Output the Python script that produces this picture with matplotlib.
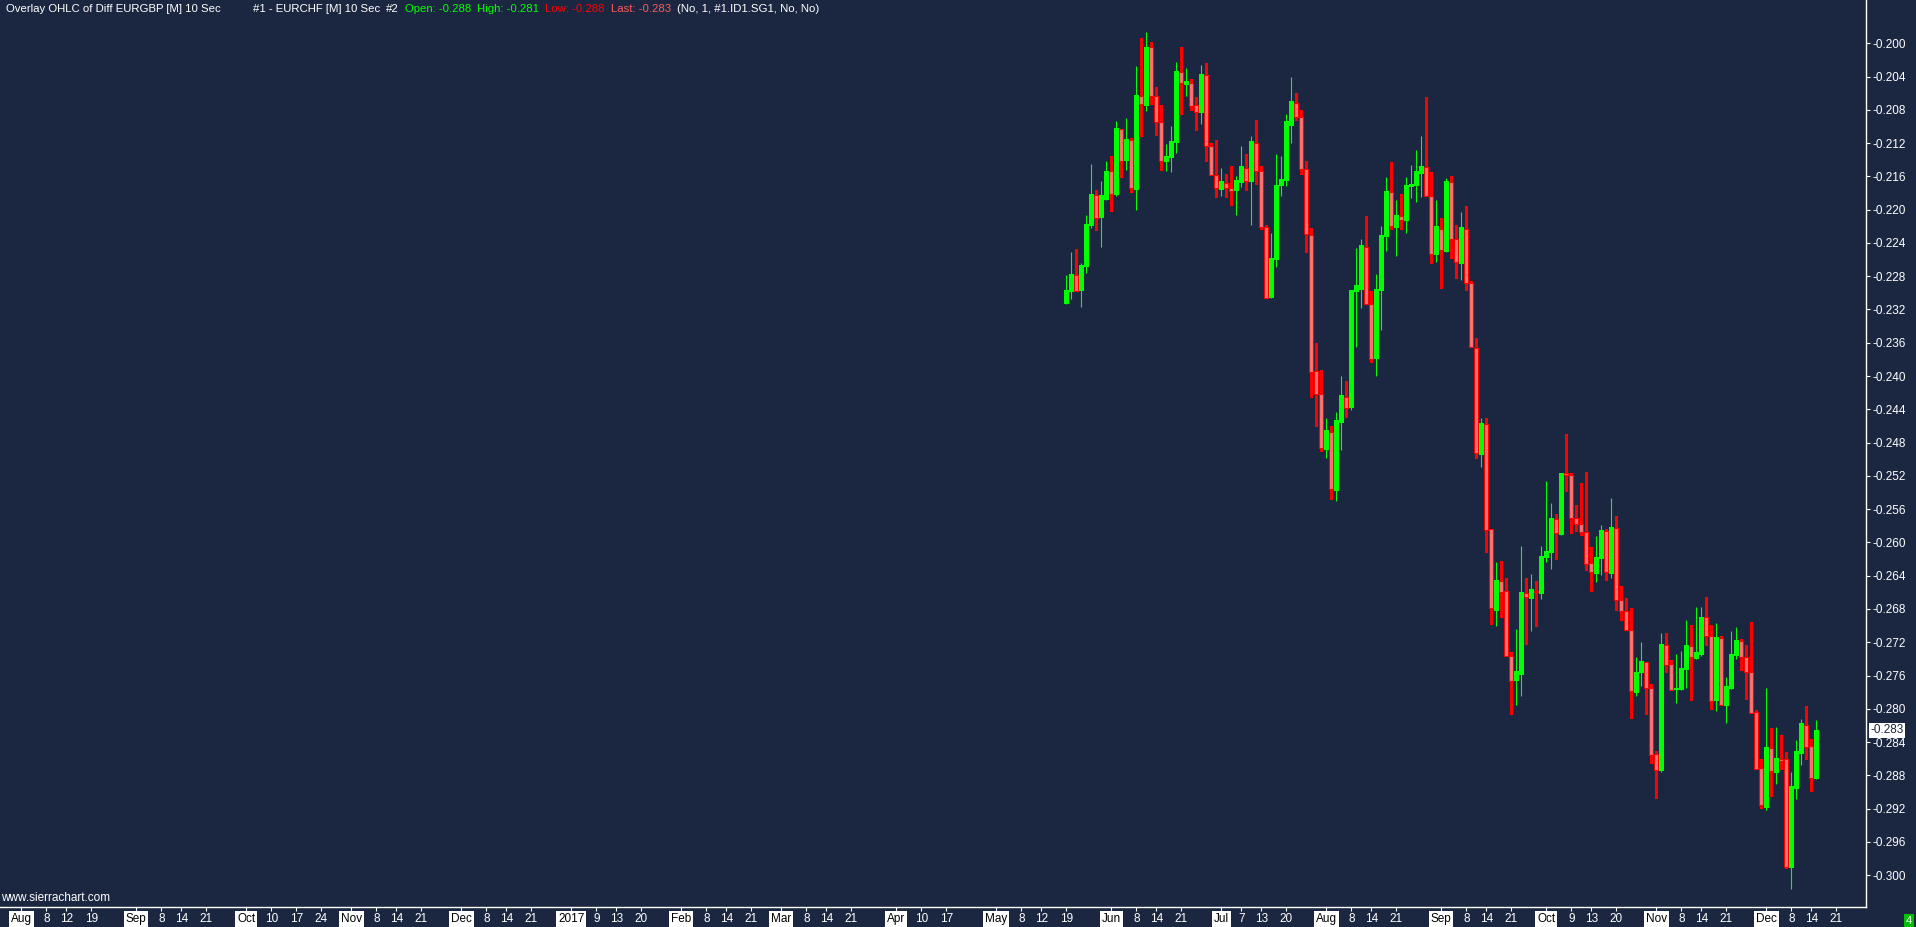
import numpy as np
import pandas as pd
import matplotlib
matplotlib.use("Agg")
import matplotlib.pyplot as plt
from matplotlib import font_manager

# daily OHLC of the EURGBP - EURCHF difference, one bar per weekday
dates = pd.bdate_range("2017-05-19", periods=151)

opens = [
    -0.2314, -0.2299, -0.2278, -0.2298, -0.2269, -0.2220, -0.2182, -0.2210, -0.2188, -0.2154,
    -0.2183, -0.2103, -0.2142, -0.2116, -0.2176, -0.2063, -0.2075, -0.2005, -0.2063, -0.2095,
    -0.2143, -0.2138, -0.2120, -0.2035, -0.2050, -0.2048, -0.2074, -0.2084, -0.2038, -0.2123,
    -0.2158, -0.2176, -0.2168, -0.2174, -0.2178, -0.2168, -0.2150, -0.2167, -0.2120, -0.2153,
    -0.2221, -0.2306, -0.2261, -0.2172, -0.2166, -0.2099, -0.2072, -0.2089, -0.2151, -0.2231,
    -0.2394, -0.2422, -0.2489, -0.2467, -0.2538, -0.2456, -0.2425, -0.2439, -0.2299, -0.2296,
    -0.2245, -0.2314, -0.2380, -0.2298, -0.2233, -0.2179, -0.2222, -0.2208, -0.2214, -0.2173,
    -0.2172, -0.2157, -0.2149, -0.2184, -0.2254, -0.2223, -0.2251, -0.2167, -0.2235, -0.2265,
    -0.2223, -0.2288, -0.2366, -0.2495, -0.2458, -0.2584, -0.2682, -0.2646, -0.2659, -0.2736,
    -0.2766, -0.2759, -0.2661, -0.2668, -0.2658, -0.2662, -0.2619, -0.2613, -0.2572, -0.2591,
    -0.2517, -0.2519, -0.2571, -0.2578, -0.2588, -0.2625, -0.2638, -0.2620, -0.2586, -0.2638,
    -0.2583, -0.2669, -0.2682, -0.2705, -0.2781, -0.2757, -0.2744, -0.2775, -0.2854, -0.2875,
    -0.2723, -0.2746, -0.2778, -0.2778, -0.2753, -0.2725, -0.2740, -0.2735, -0.2690, -0.2713,
    -0.2791, -0.2715, -0.2797, -0.2776, -0.2737, -0.2719, -0.2738, -0.2756, -0.2804, -0.2871,
    -0.2919, -0.2847, -0.2877, -0.2860, -0.2860, -0.2991, -0.2896, -0.2854, -0.2819, -0.2845,
    -0.2884]
highs = [
    -0.2278, -0.2251, -0.2247, -0.2264, -0.2206, -0.2145, -0.2176, -0.2165, -0.2141, -0.2135,
    -0.2093, -0.2103, -0.2090, -0.2114, -0.2027, -0.1994, -0.1986, -0.1999, -0.2052, -0.2074,
    -0.2121, -0.2099, -0.2022, -0.2004, -0.2030, -0.2043, -0.2064, -0.2026, -0.2024, -0.2120,
    -0.2116, -0.2150, -0.2157, -0.2148, -0.2159, -0.2123, -0.2133, -0.2112, -0.2092, -0.2147,
    -0.2218, -0.2228, -0.2133, -0.2135, -0.2085, -0.2040, -0.2060, -0.2080, -0.2141, -0.2222,
    -0.2360, -0.2393, -0.2451, -0.2460, -0.2443, -0.2400, -0.2406, -0.2296, -0.2246, -0.2235,
    -0.2208, -0.2298, -0.2277, -0.2220, -0.2161, -0.2143, -0.2188, -0.2181, -0.2161, -0.2146,
    -0.2128, -0.2111, -0.2065, -0.2155, -0.2188, -0.2210, -0.2162, -0.2159, -0.2219, -0.2203,
    -0.2196, -0.2286, -0.2354, -0.2451, -0.2451, -0.2584, -0.2624, -0.2622, -0.2643, -0.2732,
    -0.2704, -0.2604, -0.2643, -0.2638, -0.2646, -0.2604, -0.2526, -0.2553, -0.2566, -0.2517,
    -0.2470, -0.2517, -0.2555, -0.2529, -0.2515, -0.2606, -0.2592, -0.2579, -0.2584, -0.2547,
    -0.2568, -0.2652, -0.2667, -0.2679, -0.2738, -0.2720, -0.2744, -0.2770, -0.2851, -0.2709,
    -0.2709, -0.2741, -0.2734, -0.2731, -0.2693, -0.2699, -0.2678, -0.2678, -0.2666, -0.2699,
    -0.2697, -0.2713, -0.2762, -0.2707, -0.2702, -0.2716, -0.2723, -0.2696, -0.2801, -0.2860,
    -0.2775, -0.2823, -0.2822, -0.2832, -0.2852, -0.2876, -0.2838, -0.2812, -0.2797, -0.2836,
    -0.2813]
lows = [
    -0.2314, -0.2308, -0.2298, -0.2317, -0.2276, -0.2222, -0.2226, -0.2245, -0.2188, -0.2203,
    -0.2184, -0.2162, -0.2152, -0.2180, -0.2201, -0.2113, -0.2081, -0.2074, -0.2112, -0.2154,
    -0.2153, -0.2155, -0.2132, -0.2086, -0.2063, -0.2082, -0.2106, -0.2097, -0.2143, -0.2160,
    -0.2186, -0.2184, -0.2186, -0.2196, -0.2206, -0.2173, -0.2178, -0.2218, -0.2170, -0.2225,
    -0.2307, -0.2306, -0.2269, -0.2184, -0.2171, -0.2120, -0.2094, -0.2158, -0.2252, -0.2426,
    -0.2461, -0.2491, -0.2499, -0.2549, -0.2550, -0.2489, -0.2451, -0.2441, -0.2365, -0.2318,
    -0.2314, -0.2384, -0.2400, -0.2345, -0.2250, -0.2225, -0.2256, -0.2225, -0.2228, -0.2186,
    -0.2191, -0.2185, -0.2184, -0.2265, -0.2263, -0.2295, -0.2251, -0.2259, -0.2283, -0.2284,
    -0.2298, -0.2365, -0.2500, -0.2509, -0.2613, -0.2699, -0.2700, -0.2691, -0.2736, -0.2807,
    -0.2796, -0.2785, -0.2723, -0.2706, -0.2702, -0.2668, -0.2624, -0.2632, -0.2621, -0.2591,
    -0.2539, -0.2590, -0.2588, -0.2592, -0.2634, -0.2660, -0.2648, -0.2639, -0.2646, -0.2643,
    -0.2682, -0.2694, -0.2706, -0.2812, -0.2785, -0.2773, -0.2807, -0.2866, -0.2908, -0.2876,
    -0.2757, -0.2779, -0.2793, -0.2778, -0.2775, -0.2791, -0.2740, -0.2737, -0.2724, -0.2801,
    -0.2803, -0.2797, -0.2817, -0.2776, -0.2740, -0.2755, -0.2789, -0.2806, -0.2872, -0.2920,
    -0.2922, -0.2906, -0.2891, -0.2873, -0.2992, -0.3017, -0.2908, -0.2867, -0.2861, -0.2900,
    -0.2884]
closes = [
    -0.2296, -0.2277, -0.2298, -0.2266, -0.2217, -0.2181, -0.2210, -0.2183, -0.2153, -0.2181,
    -0.2102, -0.2141, -0.2115, -0.2174, -0.2062, -0.2073, -0.2004, -0.2063, -0.2095, -0.2142,
    -0.2135, -0.2117, -0.2033, -0.2048, -0.2045, -0.2075, -0.2083, -0.2037, -0.2124, -0.2158,
    -0.2174, -0.2166, -0.2174, -0.2177, -0.2164, -0.2148, -0.2166, -0.2118, -0.2153, -0.2221,
    -0.2306, -0.2258, -0.2170, -0.2163, -0.2094, -0.2070, -0.2089, -0.2151, -0.2229, -0.2395,
    -0.2422, -0.2487, -0.2465, -0.2536, -0.2453, -0.2423, -0.2439, -0.2296, -0.2291, -0.2243,
    -0.2314, -0.2379, -0.2295, -0.2230, -0.2177, -0.2220, -0.2206, -0.2213, -0.2170, -0.2169,
    -0.2153, -0.2147, -0.2184, -0.2253, -0.2220, -0.2249, -0.2166, -0.2235, -0.2263, -0.2221,
    -0.2288, -0.2365, -0.2493, -0.2456, -0.2585, -0.2679, -0.2645, -0.2660, -0.2736, -0.2766,
    -0.2755, -0.2660, -0.2666, -0.2656, -0.2660, -0.2616, -0.2610, -0.2571, -0.2589, -0.2517,
    -0.2519, -0.2571, -0.2578, -0.2588, -0.2626, -0.2636, -0.2617, -0.2585, -0.2636, -0.2581,
    -0.2669, -0.2682, -0.2705, -0.2779, -0.2756, -0.2743, -0.2775, -0.2855, -0.2873, -0.2722,
    -0.2747, -0.2778, -0.2775, -0.2751, -0.2723, -0.2738, -0.2732, -0.2690, -0.2713, -0.2791,
    -0.2714, -0.2796, -0.2773, -0.2734, -0.2717, -0.2738, -0.2756, -0.2805, -0.2872, -0.2916,
    -0.2846, -0.2875, -0.2859, -0.2863, -0.2990, -0.2893, -0.2851, -0.2817, -0.2846, -0.2883,
    -0.2826]

# time axis labels
month_labels = ["Aug", "Sep", "Oct", "Nov", "Dec", "2017", "Feb", "Mar", "Apr",
                "May", "Jun", "Jul", "Aug", "Sep", "Oct", "Nov", "Dec"]
day_ticks = ["2016-08-08", "2016-08-12", "2016-08-19", "2016-09-08", "2016-09-14", "2016-09-21",
             "2016-10-10", "2016-10-17", "2016-10-24", "2016-11-08", "2016-11-14", "2016-11-21",
             "2016-12-08", "2016-12-14", "2016-12-21", "2017-01-09", "2017-01-13", "2017-01-20",
             "2017-02-08", "2017-02-14", "2017-02-21", "2017-03-08", "2017-03-14", "2017-03-21",
             "2017-04-10", "2017-04-17", "2017-05-08", "2017-05-12", "2017-05-19", "2017-06-08",
             "2017-06-14", "2017-06-21", "2017-07-07", "2017-07-13", "2017-07-20", "2017-08-08",
             "2017-08-14", "2017-08-21", "2017-09-08", "2017-09-14", "2017-09-21", "2017-10-09",
             "2017-10-13", "2017-10-20", "2017-11-08", "2017-11-14", "2017-11-21", "2017-12-08",
             "2017-12-14", "2017-12-21"]
price_ticks = np.round(np.arange(-0.300, -0.1999, 0.004), 3)

BG = "#1b2741"
UP = "#00ff00"
DOWN = "#ff0000"
DOWN_FILL = "#ff7373"

names = {f.name for f in font_manager.fontManager.ttflist}
font = "Liberation Sans Narrow" if "Liberation Sans Narrow" in names else "Liberation Sans"
plt.rcParams["font.family"] = [font, "DejaVu Sans"]
FS = 8.5

# weekday index from the first day of the axis
axis_days = pd.bdate_range("2016-08-01", "2017-12-29")
x = np.array([axis_days.get_loc(d) for d in dates])
o = np.array(opens)
h = np.array(highs)
l = np.array(lows)
c = np.array(closes)
up = c >= o
dn = ~up
px = 1 / 8319.0  # value of one pixel

fig = plt.figure(figsize=(19.16, 9.27), dpi=100, facecolor=BG)
ax = fig.add_axes([0, 1 - 906.7 / 927, 1866 / 1916, 906.7 / 927])
ax.set_facecolor(BG)

# down bars: wide red wick, pink body with red outline
ax.bar(x[dn], h[dn] - l[dn], bottom=l[dn], width=0.55, color=DOWN, linewidth=0)
body = np.maximum(np.abs(c - o), px)
ax.bar(x[dn], body[dn], bottom=np.minimum(o, c)[dn], width=0.8,
       facecolor=DOWN_FILL, edgecolor=DOWN, linewidth=0.8)
# up bars: thin wick, solid green body
ax.vlines(x[up], l[up], h[up], color=UP, linewidth=0.8)
ax.bar(x[up], body[up], bottom=np.minimum(o, c)[up], width=0.9, color=UP, linewidth=0)

ax.set_xlim(-4.26, 368.94)
ax.set_ylim(-0.30379, -0.19480)

for s in ["top", "left"]:
    ax.spines[s].set_visible(False)
for s in ["right", "bottom"]:
    ax.spines[s].set_color("white")
    ax.spines[s].set_linewidth(1.0)

ax.yaxis.tick_right()
ax.set_yticks(price_ticks, [f"{v:.3f}" for v in price_ticks])
ax.tick_params(axis="y", colors="white", length=3, width=0.8, pad=1.5, labelsize=FS)

month_pos = [axis_days.get_loc(d) for d in pd.date_range("2016-08-01", "2017-12-01", freq="BMS")]
day_pos = [axis_days.get_loc(pd.Timestamp(d)) for d in day_ticks]
day_labels = [str(pd.Timestamp(d).day) for d in day_ticks]
ax.set_xticks(month_pos + day_pos, month_labels + day_labels)
ax.tick_params(axis="x", colors="white", length=3, width=0.8, pad=1.5, labelsize=FS)
for lab in ax.get_xticklabels()[:len(month_pos)]:
    lab.set_color("black")
    lab.set_bbox(dict(boxstyle="square,pad=0.15", facecolor="white", edgecolor="none"))

# last price marker on the price scale
ax.text(1.0022, c[-1], f"{c[-1]:.3f}", transform=ax.get_yaxis_transform(),
        ha="left", va="center", fontsize=FS, color=BG,
        bbox=dict(boxstyle="square,pad=0.1", facecolor="white", edgecolor="none"))

# header line, pieces placed left to right without overlap
W, H = 1916.0, 927.0
ty = 1 - 11.5 / H
header = [
    ("Overlay OHLC of Diff EURGBP [M] 10 Sec", "white", 6),
    ("#1 - EURCHF [M] 10 Sec", "white", 253),
    ("#2", "white", 373),
    (f"Open: {o[-1]:.3f}", UP, 395),
    (f"High: {h[-1]:.3f}", UP, 468),
    (f"Low: {l[-1]:.3f}", DOWN, 537),
    (f"Last: {c[-1]:.3f}", "#ff5a5a", 604),
    ("(No, 1, #1.ID1.SG1, No, No)", "white", 670),
]
renderer = fig.canvas.get_renderer()
end = 0
for txt, col, xp in header:
    xp = max(xp, end + 6)
    t = fig.text(xp / W, ty, txt, color=col, fontsize=8.2, ha="left", va="baseline")
    end = t.get_window_extent(renderer).x1

fig.text(1 / W, 1 - 898 / H, "www.sierrachart.com", color="white", fontsize=FS,
         ha="left", va="center")
fig.text(1909 / W, 1 - 921 / H, "4", color="white", fontsize=8, ha="center", va="center",
         bbox=dict(boxstyle="square,pad=0.2", facecolor="#00c000", edgecolor="none"))

fig.savefig("out.png", dpi=100, facecolor=BG)
